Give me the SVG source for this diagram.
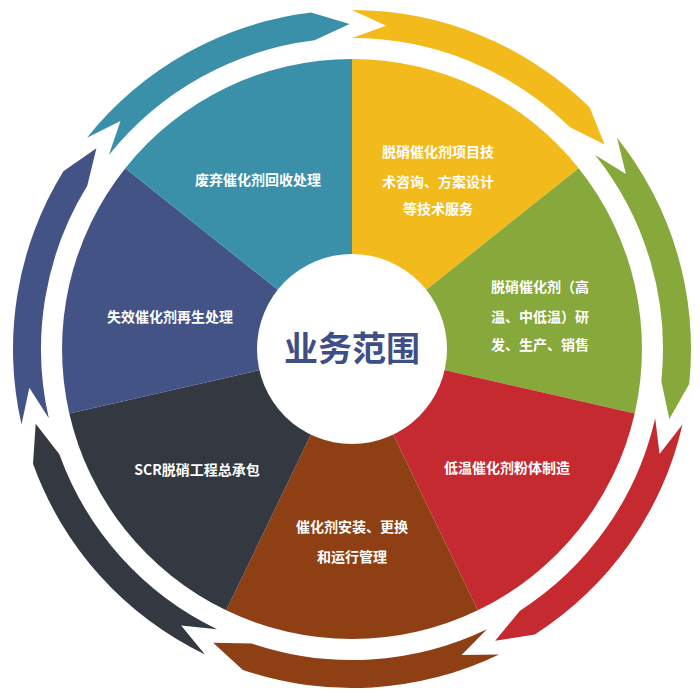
<svg xmlns="http://www.w3.org/2000/svg" xmlns:xlink="http://www.w3.org/1999/xlink" width="700" height="700" viewBox="0 0 700 700">
<style>
.lb{font-family:"Noto Sans CJK SC","Noto Sans",sans-serif;font-size:14px;font-weight:bold;fill:#fff;text-anchor:middle}
.ct{font-family:"Noto Sans CJK SC","Noto Sans",sans-serif;font-size:34px;font-weight:bold;fill:#3f4f86;text-anchor:middle}
</style>
<defs>
<path id="arr" d="M352,10 A339,339 0 0 1 589.6,107.2 L604.6,144.5 L570,127.2 A311,311 0 0 0 352,38 L386,25.8 Z"/>
</defs>
<rect width="700" height="700" fill="#fff"/>
<g id="connectors">
<use xlink:href="#arr" fill="#F3BA1C"/>
<use xlink:href="#arr" fill="#87A83A" transform="rotate(51.4286 352 349)"/>
<use xlink:href="#arr" fill="#C52A31" transform="rotate(102.857 352 349)"/>
<use xlink:href="#arr" fill="#8F3F14" transform="rotate(154.286 352 349)"/>
<use xlink:href="#arr" fill="#343841" transform="rotate(205.714 352 349)"/>
<use xlink:href="#arr" fill="#435386" transform="rotate(257.143 352 349)"/>
<use xlink:href="#arr" fill="#3A90A8" transform="rotate(308.571 352 349)"/>
</g>
<g id="s1"><path d="M352,349 L352,59 A290,290 0 0 1 578.7,168.2 Z" fill="#F3BA1C"/>
<text class="lb" x="438" y="157">脱硝催化剂项目技</text><text class="lb" x="438" y="187">术咨询、方案设计</text><text class="lb" x="438" y="214">等技术服务</text></g>
<g id="s2"><path d="M352,349 L578.7,168.2 A290,290 0 0 1 634.7,413.5 Z" fill="#87A83A"/>
<text class="lb" x="540" y="292">脱硝催化剂（高</text><text class="lb" x="540" y="322">温、中低温）研</text><text class="lb" x="540" y="350">发、生产、销售</text></g>
<g id="s3"><path d="M352,349 L634.7,413.5 A290,290 0 0 1 477.8,610.3 Z" fill="#C52A31"/>
<text class="lb" x="507" y="473">低温催化剂粉体制造</text></g>
<g id="s4"><path d="M352,349 L477.8,610.3 A290,290 0 0 1 226.2,610.3 Z" fill="#8F3F14"/>
<text class="lb" x="352" y="532">催化剂安装、更换</text><text class="lb" x="352" y="562">和运行管理</text></g>
<g id="s5"><path d="M352,349 L226.2,610.3 A290,290 0 0 1 69.3,413.5 Z" fill="#343841"/>
<text class="lb" x="197" y="475">SCR脱硝工程总承包</text></g>
<g id="s6"><path d="M352,349 L69.3,413.5 A290,290 0 0 1 125.3,168.2 Z" fill="#435386"/>
<text class="lb" x="170" y="322">失效催化剂再生处理</text></g>
<g id="s7"><path d="M352,349 L125.3,168.2 A290,290 0 0 1 352,59 Z" fill="#3A90A8"/>
<text class="lb" x="258" y="185">废弃催化剂回收处理</text></g>
<g id="center"><circle cx="352" cy="349" r="95" fill="#fff"/>
<text class="ct" x="352" y="361">业务范围</text></g>
</svg>
